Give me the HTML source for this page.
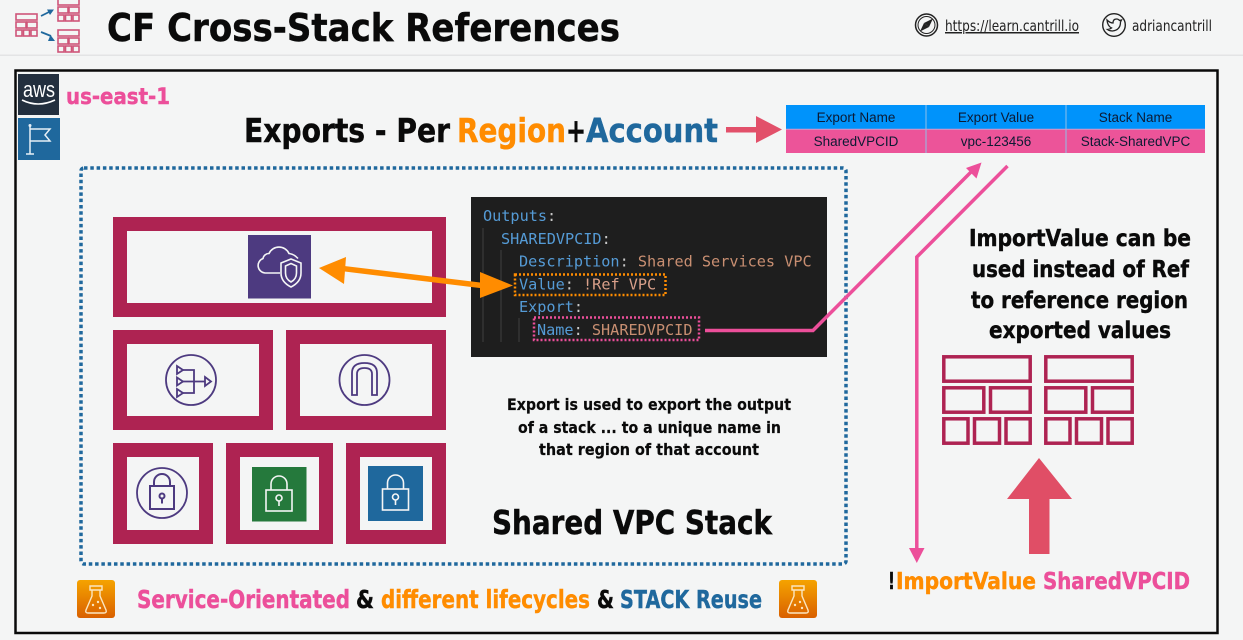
<!DOCTYPE html>
<html>
<head>
<meta charset="utf-8">
<style>
html,body{margin:0;padding:0;background:#f4f5f5;width:1243px;height:640px;overflow:hidden}
svg{display:block}
text{font-family:"DejaVu Sans","Liberation Sans",sans-serif;font-weight:700}
.m{font-family:"DejaVu Sans Mono","Liberation Mono",monospace;font-weight:400;font-size:15.2px;fill:#559bd6}
.c{fill:#c8c8c8}.s{fill:#c98f72}
.t{font-family:"Liberation Sans",sans-serif;font-weight:400;font-size:13.5px;fill:#0c1a33;text-anchor:middle}
.l{font-weight:400;fill:#222}
.b{fill:#ae2352}.w{fill:#f4f5f5}
.ic{fill:none;stroke:#4d3a80;stroke-width:1.8}
.wl{fill:none;stroke:#f4f5f5;stroke-width:1.6}
.k{fill:#0a0a0a;stroke:#0a0a0a;stroke-width:.45}
.o{fill:#ff8c00;stroke:#ff8c00;stroke-width:.45}
.p{fill:#ec4f9a;stroke:#ec4f9a;stroke-width:.45}
.u{fill:#1f689d;stroke:#1f689d;stroke-width:.45}
</style>
</head>
<body>
<svg width="1243" height="640" viewBox="0 0 1243 640" xmlns="http://www.w3.org/2000/svg">
<defs>
<linearGradient id="fl" x1="0" y1="0" x2="0" y2="1"><stop offset="0" stop-color="#f5a300"/><stop offset="1" stop-color="#d96000"/></linearGradient>
<g id="mini" fill="none" stroke="#cf5579" stroke-width="1.6">
<rect x="1" y="1" width="21" height="6"/><rect x="1" y="9" width="10" height="6"/><rect x="12" y="9" width="10" height="6"/>
<rect x="1" y="17" width="6" height="6"/><rect x="8.5" y="17" width="6" height="6"/><rect x="16" y="17" width="6" height="6"/>
</g>
<g id="flask">
<rect width="38" height="38" rx="3" fill="url(#fl)"/>
<path d="M15 10v6l-6 14q-1 3 2 3h16q3 0 2-3l-6-14v-6M13 6h12v4h-12z" fill="none" stroke="#fbe6c0" stroke-width="1.4"/>
<circle cx="16" cy="25" r="1.2" fill="#fbe6c0"/><circle cx="21" cy="22" r="1.2" fill="#fbe6c0"/><circle cx="23" cy="28" r="1.2" fill="#fbe6c0"/>
</g>
<g id="lock" class="wl">
<rect x="-13" y="-4" width="26" height="21"/><path d="M-8-4v-6a8 8 0 0 1 16 0v6"/><circle cx="0" cy="4" r="3"/><path d="M0 7v5"/>
</g>
</defs>

<rect width="1243" height="640" fill="#f4f5f5"/>
<rect x="0" y="54.5" width="1243" height="1.5" fill="#e3e4e5"/>

<!-- header -->
<use href="#mini" x="15" y="13"/>
<use href="#mini" x="57" y="-2"/>
<use href="#mini" x="57" y="29"/>
<path d="M41 16L51 11M51 36L41 32" stroke="#1f689d" stroke-width="1.8"/>
<path d="M54 9.500L47 9.500L50 15zM55 41L48 41L50.500 35z" fill="#1f689d"/>
<text class="k" x="107" y="41" font-size="38" textLength="513" lengthAdjust="spacingAndGlyphs">CF Cross-Stack References</text>

<circle cx="926.500" cy="25" r="11" fill="none" stroke="#222" stroke-width="1.500"/>
<circle cx="926.500" cy="25" r="8.500" fill="none" stroke="#222" stroke-width="1"/>
<path d="M933 18.500L929 27L924 23z" fill="#222"/><path d="M920 31.500L924 23L929 27z" fill="#222"/>
<text class="l" x="945" y="31" font-size="15" text-decoration="underline" textLength="134" lengthAdjust="spacingAndGlyphs">https://learn.cantrill.io</text>
<circle cx="1114" cy="25" r="11.300" fill="none" stroke="#222" stroke-width="1.400"/>
<path d="M1107 20q3 3 6 3q0-4 3.500-4q2 0 3 1.500l2-.5-1 2q0 8-8 9q-3 0-5-1.500q2 0 4-1.500q-4-2-4.500-8z" fill="none" stroke="#222" stroke-width="1.300"/>
<text class="l" x="1132" y="31" font-size="15" textLength="80" lengthAdjust="spacingAndGlyphs">adriancantrill</text>

<!-- frame -->
<rect x="15.500" y="70.500" width="1202" height="562.500" fill="none" stroke="#0a0a0a" stroke-width="2.500"/>

<!-- aws badges -->
<rect x="18" y="74" width="41" height="41" fill="#232f3e"/>
<text x="23" y="97" font-size="22" fill="#fff" textLength="32" lengthAdjust="spacingAndGlyphs" style="font-weight:400;font-family:'Liberation Sans',sans-serif">aws</text>
<path d="M22 100q16 8 33 0" fill="none" stroke="#fff" stroke-width="1.600"/>
<rect x="18" y="118" width="42" height="42" fill="#1f689d"/>
<path d="M30 126v28M26 154h8M30 129h20l-5 6 5 6h-20" fill="none" stroke="#e6eff6" stroke-width="1.500"/>
<circle cx="30" cy="125.500" r="1.500" fill="#e6eff6"/>
<text class="p" x="66" y="104" font-size="22" textLength="104" lengthAdjust="spacingAndGlyphs">us-east-1</text>

<!-- exports heading -->
<g font-size="33">
<text class="k" x="244" y="142" textLength="206" lengthAdjust="spacingAndGlyphs">Exports - Per</text>
<text class="o" x="457" y="142" textLength="109" lengthAdjust="spacingAndGlyphs">Region</text>
<text class="k" x="566" y="142" textLength="20" lengthAdjust="spacingAndGlyphs">+</text>
<text class="u" x="586" y="142" textLength="132" lengthAdjust="spacingAndGlyphs">Account</text>
</g>
<path d="M726 127H756V116L782 129.500L756 143V132.500H726z" fill="#e2506a"/>

<!-- table -->
<rect x="786" y="105" width="419" height="24" fill="#0093fb"/>
<rect x="786" y="129.500" width="419" height="23.500" fill="#ec5499"/>
<path d="M926 105V153M1066 105V153" stroke="#8fbfe8" stroke-width="1"/>
<path d="M786 129.300H1205" stroke="#c9a0d0" stroke-width="1"/>
<text class="t" x="856" y="122">Export Name</text>
<text class="t" x="996" y="122">Export Value</text>
<text class="t" x="1135.500" y="122">Stack Name</text>
<text class="t" x="856" y="146">SharedVPCID</text>
<text class="t" x="996" y="146">vpc-123456</text>
<text class="t" x="1135.500" y="146">Stack-SharedVPC</text>

<!-- dotted stack -->
<rect x="81" y="168" width="765" height="396" rx="3" fill="none" stroke="#1f689d" stroke-width="3.500" stroke-dasharray="3.500 2.800"/>

<!-- blocks -->
<rect class="b" x="113" y="217" width="333" height="100"/><rect class="w" x="127" y="231" width="305" height="72"/>
<rect class="b" x="113" y="330" width="160" height="100"/><rect class="w" x="127" y="344" width="132" height="72"/>
<rect class="b" x="286" y="330" width="160" height="100"/><rect class="w" x="300" y="344" width="132" height="72"/>
<rect class="b" x="113" y="443" width="100" height="101"/><rect class="w" x="127" y="457" width="72" height="73"/>
<rect class="b" x="226" y="443" width="107" height="101"/><rect class="w" x="240" y="457" width="79" height="73"/>
<rect class="b" x="346" y="443" width="100" height="101"/><rect class="w" x="360" y="457" width="72" height="73"/>

<!-- shield cloud -->
<rect x="248" y="235" width="63" height="63.500" fill="#4d3a80"/>
<path d="M280 273H265a7.500 7.500 0 0 1-2-14.500a6 6 0 0 1 6-5a11 11 0 0 1 20 0q5 .500 9 5" class="wl"/>
<path d="M281 263l10-4 10 4v10q0 9-10 14q-10-5-10-14z" class="wl"/>
<path d="M285.500 266l5.500-2.500 5.500 2.500v7q0 6-5.500 9q-5.500-3-5.500-9z" class="wl"/>

<!-- NAT -->
<circle class="ic" cx="191" cy="380" r="25"/>
<path class="ic" d="M183 370H194V393H183M183 381.500H205"/>
<path class="ic" d="M177 366l6 4-6 4zM177 377.500l6 4-6 4zM177 389l6 4-6 4zM205 377l6 4.500-6 4.500z"/>
<!-- IGW -->
<circle class="ic" cx="364.500" cy="380" r="25"/>
<path class="ic" d="M352 395V373q0-10 12.500-10T377 373V395H372V374q0-6-7.500-6T357 374V395z"/>
<!-- lock circle -->
<circle class="ic" cx="162" cy="493" r="25"/>
<g transform="translate(162,493)"><rect x="-12" y="-7" width="24" height="23" fill="none" stroke="#4d3a80" stroke-width="2"/><path d="M-8-7v-4a8 8 0 0 1 16 0v4" fill="none" stroke="#4d3a80" stroke-width="2"/><circle cx="0" cy="3" r="2.500" fill="none" stroke="#4d3a80" stroke-width="2"/><path d="M0 5.500v5" stroke="#4d3a80" stroke-width="2"/></g>
<!-- green / blue -->
<rect x="252" y="467" width="54.500" height="54.500" fill="#25793c"/>
<use href="#lock" x="279" y="494"/>
<rect x="368" y="466" width="55" height="55" fill="#1f689d"/>
<use href="#lock" x="395.500" y="493"/>

<!-- code -->
<rect x="471" y="197" width="356" height="160" fill="#1e1e1e"/>
<path d="M483 228V342M501 250V342M519 318V342" stroke="#404040" stroke-width="1"/>
<text class="m" x="483" y="221">Outputs<tspan class="c">:</tspan></text>
<text class="m" x="501" y="244">SHAREDVPCID<tspan class="c">:</tspan></text>
<text class="m" x="519" y="266.500">Description<tspan class="c">:</tspan> <tspan class="s">Shared Services VPC</tspan></text>
<text class="m" x="519" y="289.500">Value<tspan class="c">:</tspan> <tspan fill="#d9a08a">!Ref VPC</tspan></text>
<text class="m" x="519" y="312">Export<tspan class="c">:</tspan></text>
<text class="m" x="537" y="335">Name<tspan class="c">:</tspan> <tspan class="s">SHAREDVPCID</tspan></text>
<rect x="515" y="274.500" width="150.500" height="20.500" fill="none" stroke="#ff8c00" stroke-width="2.500" stroke-dasharray="2 2"/>
<rect x="534" y="317.500" width="165" height="22.500" fill="none" stroke="#ec4f9a" stroke-width="2.500" stroke-dasharray="2 2"/>

<!-- orange double arrow -->
<path d="M344 268.700L482 285.500" stroke="#ff8c00" stroke-width="5.500"/>
<path d="M319 268L346 257L344 284z" fill="#ff8c00"/>
<path d="M513 285.500L480 272L480 298z" fill="#ff8c00"/>

<!-- pink connectors -->
<path d="M705 330.500H813L972 171" fill="none" stroke="#ec4f9a" stroke-width="3.500"/>
<path d="M981.500 162.500L966 168L976.500 178.500z" fill="#ec4f9a"/>
<path d="M1007.500 166L916.800 257V550" fill="none" stroke="#ec4f9a" stroke-width="3.500"/>
<path d="M909 548H924.500L916.800 563z" fill="#ec4f9a"/>

<!-- mid text -->
<g font-size="16">
<text class="k" style="stroke-width:.2" x="507" y="410" textLength="284" lengthAdjust="spacingAndGlyphs">Export is used to export the output</text>
<text class="k" style="stroke-width:.2" x="518" y="433" textLength="263" lengthAdjust="spacingAndGlyphs">of a stack ... to a unique name in</text>
<text class="k" style="stroke-width:.2" x="539" y="455" textLength="220" lengthAdjust="spacingAndGlyphs">that region of that account</text>
</g>
<text class="k" x="492" y="534" font-size="33" textLength="280" lengthAdjust="spacingAndGlyphs">Shared VPC Stack</text>

<!-- right text -->
<g font-size="23">
<text class="k" x="969" y="246" textLength="222" lengthAdjust="spacingAndGlyphs">ImportValue can be</text>
<text class="k" x="972" y="277" textLength="217" lengthAdjust="spacingAndGlyphs">used instead of Ref</text>
<text class="k" x="971" y="308" textLength="217" lengthAdjust="spacingAndGlyphs">to reference region</text>
<text class="k" x="989" y="338" textLength="182" lengthAdjust="spacingAndGlyphs">exported values</text>
</g>

<!-- stack icon right -->
<g fill="none" stroke="#ae2352" stroke-width="3.500">
<rect x="943.800" y="356.800" width="86.400" height="24.400"/>
<rect x="943.800" y="387.800" width="40" height="24.400"/><rect x="990.500" y="387.800" width="39.700" height="24.400"/>
<rect x="943.800" y="418.800" width="24.200" height="24.400"/><rect x="974.500" y="418.800" width="25" height="24.400"/><rect x="1006" y="418.800" width="24.200" height="24.400"/>
<rect x="1045.800" y="356.800" width="86.400" height="24.400"/>
<rect x="1045.800" y="387.800" width="40" height="24.400"/><rect x="1092.500" y="387.800" width="39.700" height="24.400"/>
<rect x="1045.800" y="418.800" width="24.200" height="24.400"/><rect x="1076.500" y="418.800" width="25" height="24.400"/><rect x="1108" y="418.800" width="24.200" height="24.400"/>
</g>

<!-- up arrow -->
<path d="M1039 458L1072 499H1049.500V554H1029V499H1007z" fill="#e04e66"/>

<g font-size="23">
<text class="k" x="888" y="589" textLength="7" lengthAdjust="spacingAndGlyphs">!</text>
<text class="o" x="896" y="589" textLength="140" lengthAdjust="spacingAndGlyphs">ImportValue</text>
<text class="p" x="1043" y="589" textLength="147" lengthAdjust="spacingAndGlyphs">SharedVPCID</text>
</g>

<!-- bottom -->
<use href="#flask" x="77" y="580"/>
<use href="#flask" x="779" y="580"/>
<g font-size="25">
<text class="p" x="137" y="608" textLength="213" lengthAdjust="spacingAndGlyphs">Service-Orientated</text>
<text class="k" x="356" y="608" textLength="18" lengthAdjust="spacingAndGlyphs">&amp;</text>
<text class="o" x="381" y="608" textLength="209" lengthAdjust="spacingAndGlyphs">different lifecycles</text>
<text class="k" x="597" y="608" textLength="17" lengthAdjust="spacingAndGlyphs">&amp;</text>
<text class="u" x="620" y="608" textLength="142" lengthAdjust="spacingAndGlyphs">STACK Reuse</text>
</g>
</svg>
</body>
</html>
